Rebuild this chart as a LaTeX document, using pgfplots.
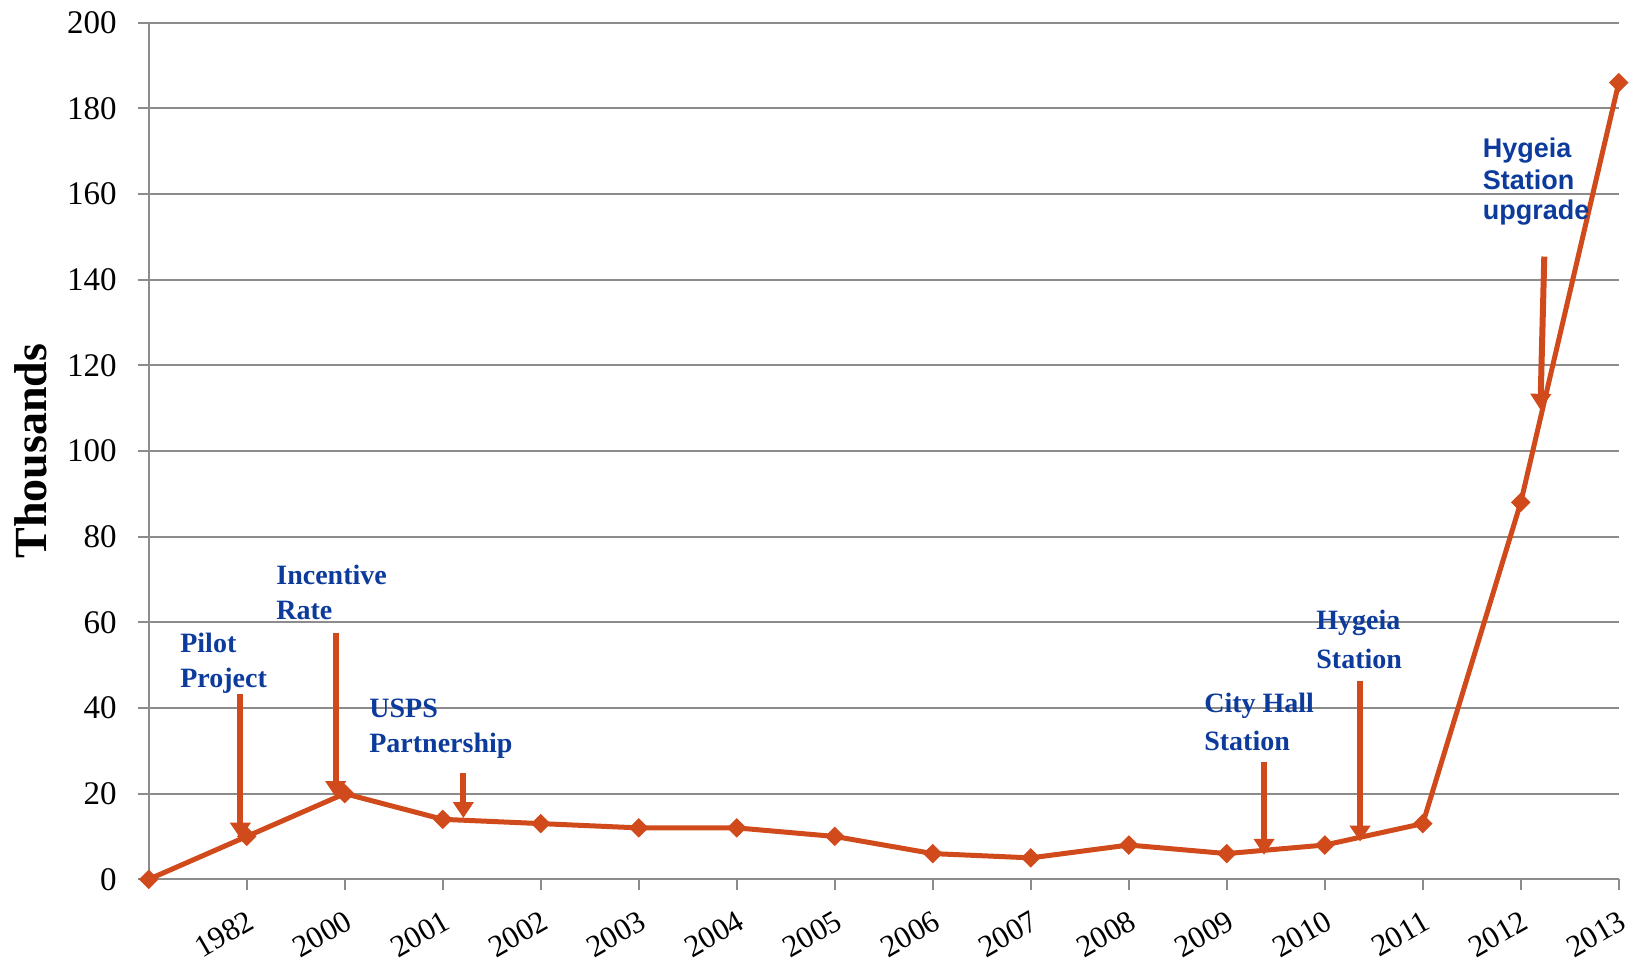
\documentclass[border=0pt]{standalone}
\usepackage{fontspec}
\setmainfont{Liberation Serif}
\newfontfamily\sansfont{Liberation Sans}
\usepackage{pgfplots}
\pgfplotsset{compat=1.18}
\usetikzlibrary{arrows.meta}
\definecolor{lineor}{HTML}{D04A1B}
\definecolor{annblue}{HTML}{0D3B9C}
\definecolor{gridg}{HTML}{8C8C8C}
\newcommand\annfont{\bfseries\fontsize{14}{16}\selectfont}
\newcommand\annsans{\sansfont\bfseries\fontsize{13.5}{15}\selectfont}
\tikzset{annarrow/.style={draw=lineor, line width=3pt, -{Triangle[width=10pt,length=8pt]}}}
\begin{document}
\begin{tikzpicture}
\begin{axis}[
  scale only axis, width=735pt, height=428.3pt,
  xmin=0, xmax=15, ymin=0, ymax=200,
  axis x line=bottom, axis y line=left,
  axis line style={-, gridg, line width=0.9pt},
  xtick={1,...,15},
  xticklabels={1982,2000,2001,2002,2003,2004,2005,2006,2007,2008,2009,2010,2011,2012,2013},
  ytick={0,20,...,200},
  ymajorgrids, major grid style={gridg, line width=0.9pt},
  tick style={gridg, line width=0.9pt},
  tick align=outside, major tick length=5.5pt,
  /pgf/number format/assume math mode=true,
  yticklabel style={font=\fontsize{16.5}{18}\selectfont, anchor=east, xshift=-7pt},
  xticklabel style={font=\fontsize{15.5}{17}\selectfont, inner sep=1pt, yshift=-8pt, xshift=0pt, rotate=30, anchor=north east},
  ylabel={Thousands},
  ylabel style={font=\bfseries\fontsize{23}{24}\selectfont, at={(axis description cs:-0.0802,0.5)}, anchor=center},
  clip=false,
]
\addplot[lineor, line width=2.5pt, mark=square*, mark size=3.2pt, mark options={fill=lineor, draw=lineor, line width=0.5pt, rotate=45}]
  coordinates {(0,0) (1,10) (2,20) (3,14) (4,13) (5,12) (6,12) (7,10) (8,6) (9,5) (10,8) (11,6) (12,8) (13,13) (14,88) (15,186)};

\draw[annarrow] (axis cs:0.935,43.3) -- (axis cs:0.935,9.5);
\draw[annarrow] (axis cs:1.907,57.6) -- (axis cs:1.907,19.2);
\draw[annarrow] (axis cs:3.21,24.8) -- (axis cs:3.21,14.3);
\draw[annarrow] (axis cs:11.38,27.5) -- (axis cs:11.38,5.7);
\draw[annarrow] (axis cs:12.36,46.4) -- (axis cs:12.36,8.8);
\draw[annarrow] (axis cs:14.24,145.4) -- (axis cs:14.20,109.6);

\begin{scope}[every node/.style={anchor=base west, inner sep=0pt, text=annblue, font=\annfont}]
\node at (axis cs:0.318,52.9) {Pilot};
\node at (axis cs:0.318,44.7) {Project};
\node at (axis cs:1.298,68.8) {Incentive};
\node at (axis cs:1.298,60.6) {Rate};
\node at (axis cs:2.247,37.7) {USPS};
\node at (axis cs:2.247,29.5) {Partnership};
\node at (axis cs:10.767,38.9) {City Hall};
\node at (axis cs:10.767,30.1) {Station};
\node at (axis cs:11.91,58.3) {Hygeia};
\node at (axis cs:11.91,49.1) {Station};
\node[font=\annsans] at (axis cs:13.61,168.5) {Hygeia};
\node[font=\annsans] at (axis cs:13.61,161.0) {Station};
\node[font=\annsans] at (axis cs:13.61,154.0) {upgrade};
\end{scope}

\coordinate (bbl) at (axis cs:-1.518,-20.43);
\coordinate (btr) at (axis cs:15.135,205.3);
\end{axis}
\pgfresetboundingbox
\path[use as bounding box] (bbl) rectangle (btr);
\end{tikzpicture}
\end{document}
